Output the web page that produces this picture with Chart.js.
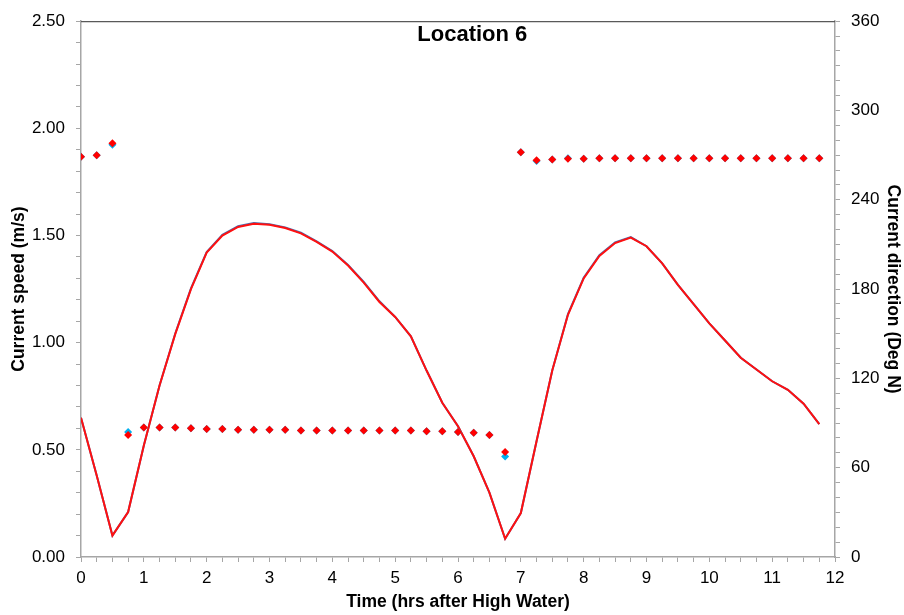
<!DOCTYPE html>
<html>
<head>
<meta charset="utf-8">
<script src="https://cdn.jsdelivr.net/npm/chart.js@4.4.1/dist/chart.umd.min.js"></script>
<style>
html,body{margin:0;padding:0;background:#fff;}
#wrap{width:904px;height:615px;}
</style>
</head>
<body>
<div id="wrap"><canvas id="c" width="904" height="615"></canvas></div>
<script>
// Time (hrs after High Water)
const times = [0,0.25,0.5,0.75,1,1.25,1.5,1.75,2,2.25,2.5,2.75,3,3.25,3.5,3.75,4,4.25,4.5,4.75,5,5.25,5.5,5.75,6,6.25,6.5,6.75,7,7.25,7.5,7.75,8,8.25,8.5,8.75,9,9.25,9.5,9.75,10,10.25,10.5,10.75,11,11.25,11.5,11.75];

// Current speed (m/s) - red and blue series
const speedRed = [0.65,0.38,0.10,0.21,0.52,0.80,1.04,1.25,1.42,1.50,1.54,1.555,1.55,1.535,1.51,1.47,1.425,1.36,1.28,1.19,1.12,1.03,0.87,0.72,0.61,0.47,0.30,0.085,0.205,0.54,0.87,1.13,1.30,1.405,1.465,1.49,1.45,1.37,1.27,1.18,1.09,1.01,0.93,0.875,0.82,0.78,0.715,0.62];
const speedBlue = [0.65,0.38,0.10,0.21,0.52,0.80,1.043,1.253,1.423,1.503,1.543,1.558,1.553,1.538,1.513,1.473,1.428,1.363,1.283,1.193,1.12,1.03,0.87,0.72,0.61,0.47,0.30,0.085,0.205,0.54,0.87,1.133,1.303,1.408,1.468,1.493,1.45,1.37,1.27,1.18,1.09,1.01,0.93,0.875,0.82,0.78,0.715,0.62];

// Current direction (Deg N) - red and cyan series
const dirRed = [269,270,278,82,87,87,87,86.5,86,86,85.5,85.5,85.5,85.5,85,85,85,85,85,85,85,85,84.5,84.5,84,83.5,82,70.5,272,266.5,267,267.5,267.5,268,268,268,268,268,268,268,268,268,268,268,268,268,268,268];
const dirCyan = [269,270,277,84,87,87,87,86.5,86,86,85.5,85.5,85.5,85.5,85,85,85,85,85,85,85,85,84.5,84.5,84,83.5,82,67.5,272,266,267,268,267.5,268,268,268,268,268,268,268,268,268,268,268,268,268,268,268];

// Tick label settings
const xMajor = [0,1,2,3,4,5,6,7,8,9,10,11,12];
const titleText = 'Location 6';

const pts = (ys) => times.map((t,i) => ({x:t, y:ys[i]}));
const FONT = '"Liberation Sans", Arial, sans-serif';
const AXIS = '#a6a6a6';

const titlePlugin = {
  id: 'innerTitle',
  afterDraw(chart){
    const {ctx, chartArea:a} = chart;
    ctx.save();
    ctx.strokeStyle = '#595959';
    ctx.lineWidth = 1.2;
    ctx.beginPath();
    ctx.moveTo(a.left, a.top + 0.5);
    ctx.lineTo(a.right, a.top + 0.5);
    ctx.stroke();
    ctx.fillStyle = '#000';
    ctx.font = 'bold 22px ' + FONT;
    ctx.textAlign = 'center';
    ctx.textBaseline = 'middle';
    ctx.fillText(titleText, a.left + a.width * 0.519, a.top + 14);
    ctx.restore();
  }
};

new Chart(document.getElementById('c'), {
  type: 'scatter',
  data: {
    datasets: [
      {label:'Direction (red)', data: pts(dirRed), yAxisID:'y1', showLine:false,
       pointStyle:'rectRot', pointRadius:4, backgroundColor:'#ff0000', borderColor:'#ff0000', borderWidth:0},
      {label:'Direction (cyan)', data: pts(dirCyan), yAxisID:'y1', showLine:false,
       pointStyle:'rectRot', pointRadius:4, backgroundColor:'#00b0f0', borderColor:'#00b0f0', borderWidth:0},
      {label:'Speed (red)', data: pts(speedRed), yAxisID:'y', showLine:true, pointRadius:0,
       borderColor:'#ff1010', borderWidth:2, tension:0},
      {label:'Speed (blue)', data: pts(speedBlue), yAxisID:'y', showLine:true, pointRadius:0,
       borderColor:'#4a6fb0', borderWidth:2, tension:0}
    ]
  },
  options: {
    responsive:false,
    animation:false,
    layout:{padding:{top:17, left:0, right:0, bottom:0}},
    plugins:{legend:{display:false}, tooltip:{enabled:false}, title:{display:false}},
    scales:{
      x:{
        type:'linear', position:'bottom', min:0, max:12,
        afterFit(s){ s.height = 58; },
        ticks:{stepSize:0.25, autoSkip:false, maxRotation:0, padding:6, color:'#000',
          font:{family:FONT, size:17},
          callback:(v) => xMajor.includes(v) ? String(v) : ''},
        grid:{drawOnChartArea:false, drawTicks:true, tickLength:5, tickColor:AXIS, tickWidth:1},
        border:{display:true, color:AXIS, width:1.5},
        title:{display:true, text:'Time (hrs after High Water)', color:'#000',
          font:{family:FONT, size:17.5, weight:'bold'}, padding:{top:0,bottom:2.5}}
      },
      y:{
        type:'linear', position:'left', min:0, max:2.5,
        afterFit(s){ s.width = 81; },
        ticks:{stepSize:0.1, autoSkip:false, padding:11, color:'#000',
          font:{family:FONT, size:17},
          callback:(v) => Math.abs(v*2 - Math.round(v*2)) < 1e-6 ? v.toFixed(2) : ''},
        grid:{drawOnChartArea:false, drawTicks:true, tickLength:5, tickColor:AXIS, tickWidth:1},
        border:{display:true, color:AXIS, width:1.5},
        title:{display:true, text:'Current speed (m/s)', color:'#000',
          font:{family:FONT, size:17.5, weight:'bold'}, padding:{top:9,bottom:0}}
      },
      y1:{
        type:'linear', position:'right', min:0, max:360,
        afterFit(s){ s.width = 69; },
        ticks:{stepSize:10, autoSkip:false, padding:11, color:'#000',
          font:{family:FONT, size:17},
          callback:(v) => (Math.round(v) % 60 === 0) ? String(Math.round(v)) : ''},
        grid:{drawOnChartArea:false, drawTicks:true, tickLength:5, tickColor:AXIS, tickWidth:1},
        border:{display:true, color:AXIS, width:1.5},
        title:{display:true, text:'Current direction (Deg N)', color:'#000',
          font:{family:FONT, size:17.5, weight:'bold'}, padding:{top:1,bottom:0}}
      }
    }
  },
  plugins:[titlePlugin]
});
</script>
</body>
</html>
